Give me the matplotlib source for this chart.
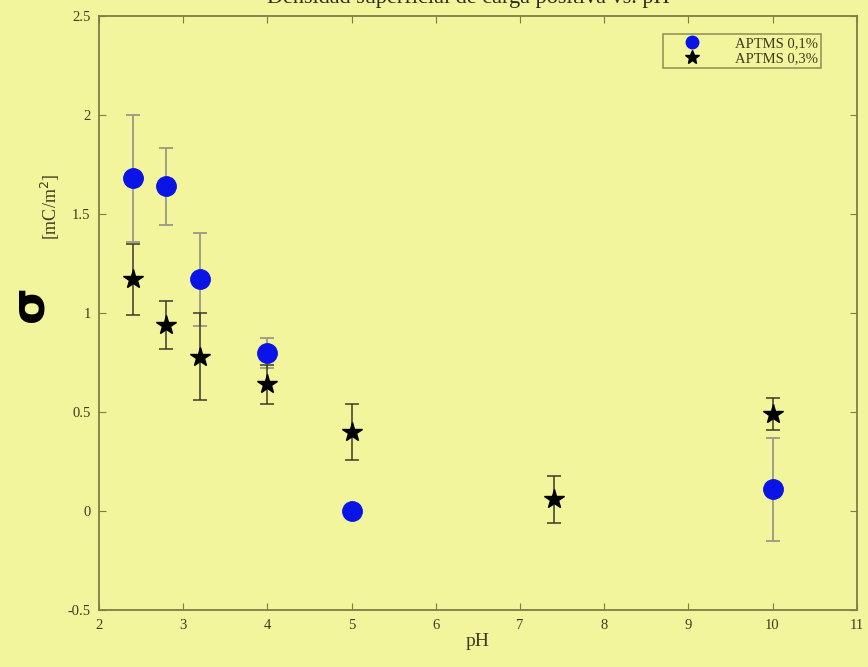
import matplotlib.pyplot as plt
from matplotlib.lines import Line2D

# surface charge density vs pH for two APTMS concentrations
ph_01 = [2.4, 2.8, 3.2, 4.0, 5.0, 10.0]
sigma_01 = [1.68, 1.64, 1.17, 0.80, 0.00, 0.11]
err_01 = [0.32, 0.195, 0.235, 0.075, 0.0, 0.26]

ph_03 = [2.4, 2.8, 3.2, 4.0, 5.0, 7.4, 10.0]
sigma_03 = [1.17, 0.94, 0.78, 0.64, 0.40, 0.06, 0.49]
err_03 = [0.18, 0.12, 0.22, 0.10, 0.14, 0.12, 0.08]

labels = ["APTMS 0,1%", "APTMS 0,3%"]

bg = "#f3f59c"
edge = "#7d7d48"
txt = "#3c3c22"
blue = "#0a14e6"

plt.rcParams["font.family"] = ["Liberation Serif", "DejaVu Serif"]

fig = plt.figure(figsize=(8.68, 6.67), dpi=100, facecolor=bg)
ax = fig.add_axes([0.114, 0.085, 0.873, 0.891], facecolor=bg)

ax.errorbar(ph_01, sigma_01, yerr=err_01, fmt="o", color=blue,
            markersize=14, ecolor="#9a9a8a", elinewidth=1.3, capsize=5,
            capthick=1.3, zorder=3)
ax.errorbar(ph_03, sigma_03, yerr=err_03, fmt="*", color="black",
            markersize=15, ecolor="#3a3a28", elinewidth=1.1, capsize=5,
            capthick=1.1, zorder=4)

ax.set_xlim(2, 11)
ax.set_ylim(-0.5, 2.5)
ax.set_xticks(range(2, 12))
ax.set_yticks([-0.5, 0, 0.5, 1, 1.5, 2, 2.5])
ax.set_yticklabels(["-0.5", "0", "0.5", "1", "1.5", "2", "2.5"])

for s in ax.spines.values():
    s.set_color(edge)
    s.set_linewidth(1.3)
ax.tick_params(direction="in", top=True, right=True, length=5, pad=6,
               color=edge, labelcolor=txt, labelsize=10.5)

ax.set_xlabel("pH", fontsize=14, color=txt, labelpad=1)

# y label: big sigma with the unit set apart above it
fig.text(0.034, 0.545, "σ", fontsize=34, fontweight="bold", rotation=90,
         ha="center", va="center", color="black",
         family=["DejaVu Sans"])
fig.text(0.058, 0.69, "[mC/m$^2$]", fontsize=13, rotation=90,
         ha="center", va="center", color=txt)

fig.text(0.54, 0.996, "Densidad superficial de carga positiva vs. pH",
         fontsize=16, ha="center", va="baseline", color="#2a2a1a")

# legend shows markers only, no error bars
handles = [Line2D([], [], ls="none", marker="o", color=blue, markersize=9),
           Line2D([], [], ls="none", marker="*", color="black", markersize=10)]
leg = ax.legend(handles, labels, loc="upper right", fontsize=10.5,
                frameon=True, fancybox=False, borderpad=0.2,
                handletextpad=1.2, handlelength=3.6, labelspacing=0.1,
                bbox_to_anchor=(0.963, 0.982))
leg.get_frame().set_facecolor(bg)
leg.get_frame().set_edgecolor(edge)
leg.get_frame().set_linewidth(1.2)
for t in leg.get_texts():
    t.set_color(txt)

fig.savefig("out.png", dpi=100, facecolor=bg)
